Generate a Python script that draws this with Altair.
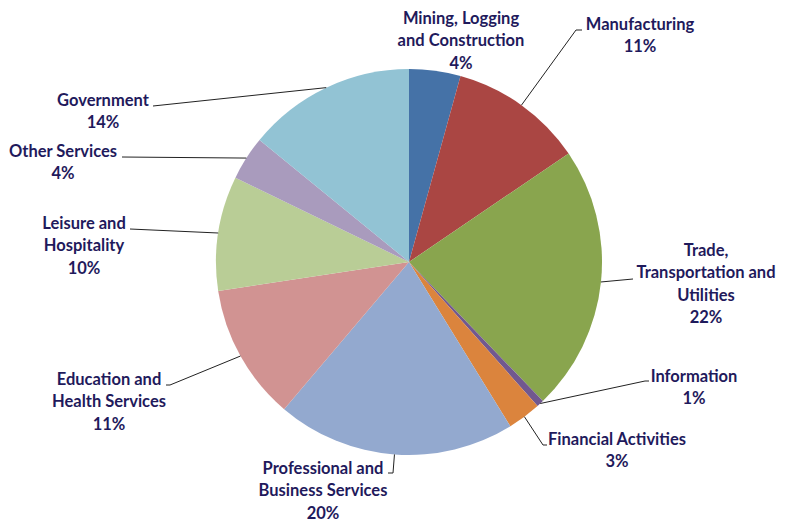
import altair as alt
import pandas as pd
import numpy as np

# ---- data ----
categories = [
    "Mining, Logging and Construction", "Manufacturing",
    "Trade, Transportation and Utilities", "Information",
    "Financial Activities", "Professional and Business Services",
    "Education and Health Services", "Leisure and Hospitality",
    "Other Services", "Government",
]
shares = [4.3, 11.2, 22.3, 0.6, 2.8, 20.0, 11.4, 9.6, 3.7, 14.1]
label_lines = [
    ["Mining,  Logging", "and Construction"], ["Manufacturing"],
    ["Trade,", "Transportation  and", "Utilities"], ["Information"],
    ["Financial  Activities"], ["Professional  and", "Business Services"],
    ["Education and", "Health Services"], ["Leisure and", "Hospitality"],
    ["Other Services"], ["Government"],
]

# ---- styling / layout ----
colors = ["#4572A7", "#AA4643", "#89A54E", "#71588F", "#DB843D",
          "#93A9CF", "#D19392", "#B9CD96", "#A99BBD", "#92C3D4"]
W, H = 776, 511
CX, CY, R = 401, 254, 193
LINE_H = 22.3
# label block anchor: (center x, first-line y) in chart pixels
label_anchor = [(453, 11), (632, 17), (698, 243), (686, 369), (609, 432),
                (315, 461), (101, 372), (76, 216), (55, 144), (95, 93)]
# leader-line bend points after the slice edge
leader_path = [[], [(568, 22), (574, 22)], [(625, 271)], [(637, 373), (641, 373)],
               [(535, 437), (539, 437)], [(385, 465), (380, 465)],
               [(162, 377), (158, 377)], [(122, 221)], [(114, 149)], [(145, 98)]]
TEXT_COLOR = "#1F1A5C"

df = pd.DataFrame({"category": categories, "share": shares, "idx": range(len(categories))})

# text rows
rows = []
for i, (cat, v) in enumerate(zip(categories, shares)):
    lines = label_lines[i] + [f"{round(v)}%"]
    ax, ay = label_anchor[i]
    for j, t in enumerate(lines):
        rows.append({"category": cat, "text": t, "px": ax, "py": ay + j * LINE_H})
tdf = pd.DataFrame(rows)

# leader lines: slice mid-edge -> bends
total = sum(shares)
cum = np.cumsum([0] + shares)
lrows = []
for i, cat in enumerate(categories):
    if not leader_path[i]:
        continue
    mid = (cum[i] + cum[i + 1]) / 2 / total * 2 * np.pi
    pts = [(CX + R * np.sin(mid), CY - R * np.cos(mid))] + leader_path[i]
    for k, (x, y) in enumerate(pts):
        lrows.append({"category": cat, "k": k, "px": x, "py": y})
ldf = pd.DataFrame(lrows)

pie = alt.Chart(df).mark_arc(outerRadius=R).encode(
    theta=alt.Theta("share:Q", stack=True),
    color=alt.Color("category:N", scale=alt.Scale(domain=categories, range=colors), legend=None),
    order=alt.Order("idx:Q"),
    x=alt.value(CX), y=alt.value(CY),
)

leaders = alt.Chart(ldf).mark_line(color="#222222", strokeWidth=1).encode(
    x=alt.X("px:Q", scale=None), y=alt.Y("py:Q", scale=None),
    detail="category:N", order="k:Q",
)

texts = alt.Chart(tdf).mark_text(
    font="Lato", fontWeight="bold", fontSize=16.5, color=TEXT_COLOR,
    align="center", baseline="middle",
).encode(
    x=alt.X("px:Q", scale=None), y=alt.Y("py:Q", scale=None), text="text:N",
)

chart = alt.layer(pie, leaders, texts).properties(
    width=W, height=H, autosize=alt.AutoSizeParams(type="none"), padding=0,
).configure_view(stroke=None)

chart.save("out.html", embed_options={"renderer": "svg", "actions": False})
